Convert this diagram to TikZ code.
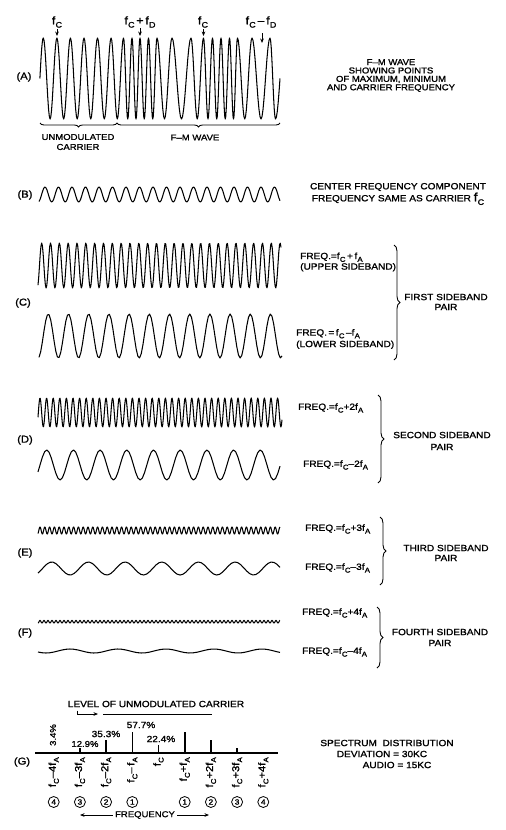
\documentclass[tikz,border=0pt]{standalone}
\usepackage{fontspec}
\usetikzlibrary{decorations.pathreplacing,arrows.meta}
\newfontfamily\lettr[FakeStretch=1.12,FakeBold=1.3]{Liberation Sans}
\newcommand\fsub[1]{f\kern0.2pt\raisebox{-0.3em}{\fontsize{7}{7}\selectfont #1}}
\newcommand\fbig[1]{f\kern0.2pt\raisebox{-0.3em}{\fontsize{8}{8}\selectfont #1}}
\newcommand\wavedraw[6]{%
  \pgfmathtruncatemacro\nsmp{12*(#2-#1)/#5+2}%
  \draw[wv] plot[domain=#1:#2, samples=\nsmp] (\x,{#3-#4*cos(360*mod((\x-#6)/#5,1))});}
\begin{document}
\begin{tikzpicture}[x=1pt,y=-1pt,
  wv/.style={line width=1.05pt, line join=round},
  lt/.style={font=\lettr\fontsize{9.5}{10}\selectfont, inner sep=0pt, text=black},
  tipa/.style={line width=0.8pt, -{Stealth[length=4.5pt,width=3.6pt]}},
  rbrace/.style={decorate, decoration={brace, amplitude=6pt}, line width=0.9pt},
  bbrace/.style={decorate, decoration={brace, amplitude=4pt, mirror}, line width=0.9pt},
  spbar/.style={line width=1.6pt},
  cnum/.style={circle, draw, line width=0.8pt, inner sep=0pt, minimum size=11pt, font=\lettr\fontsize{7.5}{8}\selectfont}
]
\fill[white] (0,0) rectangle (506,830);
\useasboundingbox (0,0) rectangle (506,830);

% ---------- (A) ----------
\node[lt, font=\lettr\fontsize{10}{10}\selectfont] (labA) at (24,77) {(A)};
\draw[wv] plot[domain=0.5:1,samples=8] ({36.5+6.8*\x},{78.5+40.5*cos(180*\x)})
  \foreach \xa/\xb/\dd in {43.3/50.1/-1, 50.1/56.9/1, 56.9/63.65/-1, 63.65/70.4/1,
     70.4/77.2/-1, 77.2/84/1, 84/90.75/-1, 90.75/97.5/1, 97.5/104.3/-1, 104.3/111.1/1,
     111.1/117.3/-1, 117.3/123.5/1, 123.5/127.75/-1, 127.75/132/1, 132/136/-1, 136/140/1,
     140/144.25/-1, 144.25/148.5/1, 148.5/152.75/-1, 152.75/157/1, 157/164.5/-1, 164.5/172/1,
     172/181.5/-1, 181.5/191/1, 191/197.25/-1, 197.25/203.5/1, 203.5/208/-1, 208/212.5/1,
     212.5/216.75/-1, 216.75/221/1, 221/225.25/-1, 225.25/229.5/1, 229.5/233.5/-1, 233.5/237.5/1,
     237.5/244.75/-1, 244.75/252/1, 252/261/-1, 261/270/1, 270/275.5/-1}
  { -- plot[domain=0:1,samples=10] ({\xa+(\xb-\xa)*\x},{78.5+\dd*40.5*cos(180*\x)}) }
  -- plot[domain=0:0.5,samples=6] ({275.5+9*\x},{78.5+40.5*cos(180*\x)});

\node[lt, font=\lettr\fontsize{11}{11}\selectfont] (fa1) at (57,22) {\fbig{C}};
\node[lt, font=\lettr\fontsize{11}{11}\selectfont] (fa2) at (140,22) {\fbig{C}\,+\,\fbig{D}};
\node[lt, font=\lettr\fontsize{11}{11}\selectfont] (fa3) at (203,22) {\fbig{C}};
\node[lt, font=\lettr\fontsize{11}{11}\selectfont] (fa4) at (261,22) {\fbig{C}\,–\,\fbig{D}};
\coordinate (pa1) at (57,36);
\coordinate (pa2) at (140,36);
\coordinate (pa3) at (203.5,36);
\coordinate (pa4) at (262,43);
\draw[tipa] (57,29) -- (pa1);
\draw[tipa] (140,28) -- (pa2);
\draw[tipa] (203.5,29) -- (pa3);
\draw[tipa] (262,33) -- (pa4);

\node[lt, align=center, font=\lettr\fontsize{8.5}{8.4}\selectfont] (descA) at (391,75.5) {F–M WAVE\\SHOWING POINTS\\OF MAXIMUM, MINIMUM\\AND CARRIER FREQUENCY};

\coordinate (brA0) at (40,123);
\coordinate (brA1) at (117,123);
\coordinate (brA2) at (280,123);
\draw[bbrace] (brA0) -- (brA1);
\draw[bbrace] (brA1) -- (brA2);
\node[lt, align=center, font=\lettr\fontsize{8.5}{10}\selectfont] (unmod) at (78,142) {UNMODULATED\\CARRIER};
\node[lt, font=\lettr\fontsize{8.5}{10}\selectfont] (fmw) at (195,137.5) {F–M WAVE};

% ---------- (B) ----------
\node[lt, font=\lettr\fontsize{10}{10}\selectfont] (labB) at (25,195) {(B)};
\wavedraw{39}{280}{194.5}{7.5}{13.5}{45}
\node[lt, align=center, font=\lettr\fontsize{9}{12}\selectfont] (descB) at (398,194)
  {CENTER FREQUENCY COMPONENT\\FREQUENCY SAME AS CARRIER {\fontsize{12}{12}\selectfont\fbig{C}}};

% ---------- (C) ----------
\node[lt, font=\lettr\fontsize{10}{10}\selectfont] (labC) at (23,303) {(C)};
\wavedraw{38}{281}{265.5}{22.5}{8.83}{41.7}
\wavedraw{39}{282}{336}{22}{20.2}{48.3}
\node[lt, align=left, anchor=west, font=\lettr\fontsize{9}{10.5}\selectfont] (cu) at (300,262) {FREQ.=\fsub{C}\,+\,\fsub{A}\\(UPPER SIDEBAND)};
\node[lt, align=left, anchor=west, font=\lettr\fontsize{9}{11.5}\selectfont] (cl) at (296,339) {FREQ.\,=\,\fsub{C}\,–\fsub{A}\\(LOWER SIDEBAND)};
\coordinate (brC0) at (394,245);
\coordinate (brC1) at (394,360);
\draw[rbrace] (brC0) -- (brC1);
\node[lt, align=center, font=\lettr\fontsize{9}{10}\selectfont] (descC) at (446,302) {FIRST SIDEBAND\\PAIR};

% ---------- (D) ----------
\node[lt, font=\lettr\fontsize{10}{10}\selectfont] (labD) at (25,440) {(D)};
\wavedraw{38}{282}{412.5}{14.5}{6.6}{40}
\wavedraw{38}{280}{465}{15}{26.7}{46.7}
\node[lt, anchor=west, font=\lettr\fontsize{9}{10}\selectfont] (du) at (298,408) {FREQ.=\fsub{C}+2\fsub{A}};
\node[lt, anchor=west, font=\lettr\fontsize{9}{10}\selectfont] (dl) at (303,465) {FREQ.=\fsub{C}–2\fsub{A}};
\coordinate (brD0) at (378,395);
\coordinate (brD1) at (378,483);
\draw[rbrace] (brD0) -- (brD1);
\node[lt, align=center, font=\lettr\fontsize{9}{12}\selectfont] (descD) at (442,441) {SECOND SIDEBAND\\PAIR};

% ---------- (E) ----------
\node[lt, font=\lettr\fontsize{10}{10}\selectfont] (labE) at (25,553) {(E)};
\wavedraw{38}{280}{530.5}{3.5}{4.8}{40}
\wavedraw{38}{280}{568.5}{6.5}{36.7}{51.7}
\node[lt, anchor=west, font=\lettr\fontsize{9}{10}\selectfont] (eu) at (305,529) {FREQ.=\fsub{C}+3\fsub{A}};
\node[lt, anchor=west, font=\lettr\fontsize{9}{10}\selectfont] (el) at (305,568) {FREQ.=\fsub{C}–3\fsub{A}};
\coordinate (brE0) at (380,517);
\coordinate (brE1) at (380,585);
\draw[rbrace] (brE0) -- (brE1);
\node[lt, align=center, font=\lettr\fontsize{9}{10}\selectfont] (descE) at (446,553) {THIRD SIDEBAND\\PAIR};

% ---------- (F) ----------
\node[lt, font=\lettr\fontsize{10}{10}\selectfont] (labF) at (25,633) {(F)};
\wavedraw{38}{280}{621.7}{1.3}{4}{40}
\wavedraw{38}{280}{651}{2}{48}{70}
\node[lt, anchor=west, font=\lettr\fontsize{9}{10}\selectfont] (fu) at (302,613) {FREQ.=\fsub{C}+4\fsub{A}};
\node[lt, anchor=west, font=\lettr\fontsize{9}{10}\selectfont] (fl) at (302,652) {FREQ.=\fsub{C}–4\fsub{A}};
\coordinate (brF0) at (377,607);
\coordinate (brF1) at (377,668);
\draw[rbrace] (brF0) -- (brF1);
\node[lt, align=center, font=\lettr\fontsize{9}{11}\selectfont] (descF) at (440,637.5) {FOURTH SIDEBAND\\PAIR};

% ---------- (G) ----------
\node[lt, font=\lettr\fontsize{10}{10}\selectfont] (labG) at (22,762) {(G)};
\node[lt, font=\lettr\fontsize{9}{10}\selectfont] (level) at (156,704) {LEVEL OF UNMODULATED CARRIER};
\coordinate (lv0) at (77,710.5);
\coordinate (lv1) at (98,714);
\coordinate (lv2) at (103,714);
\coordinate (lv3) at (212,714);
\draw[tipa] (lv0) |- (lv1);
\draw[line width=0.9pt] (lv2) -- (lv3);
\coordinate (bl0) at (35,753);
\coordinate (bl1) at (278,753);
\draw[line width=1.2pt] (bl0) -- (bl1);
\foreach \k/\h in {-4/1.3, -3/4.8, -2/13.1, -1/21.3, 0/8.3, 1/21.3, 2/13.1, 3/4.8, 4/1.3}
  \draw[spbar] ({158.5+26.2*\k},753) -- ++(0,-\h);
\node[lt, rotate=90, font=\lettr\fontsize{8.5}{9}\selectfont] (p34) at (53,735) {3.4\%};
\node[lt, font=\lettr\fontsize{8.5}{9}\selectfont] (p129) at (85,744) {12.9\%};
\node[lt, font=\lettr\fontsize{9}{9}\selectfont] (p353) at (106,734) {35.3\%};
\node[lt, font=\lettr\fontsize{9}{9}\selectfont] (p577) at (141,725) {57.7\%};
\node[lt, font=\lettr\fontsize{9}{9}\selectfont] (p224) at (161,739) {22.4\%};
\foreach \k/\t in {-4/{\fsub{C}–4\fsub{A}}, -3/{\fsub{C}–3\fsub{A}}, -2/{\fsub{C}–2\fsub{A}}, -1/{\fsub{C}–\,\fsub{A}},
   0/{\fsub{C}}, 1/{\fsub{C}+\fsub{A}}, 2/{\fsub{C}+2\fsub{A}}, 3/{\fsub{C}+3\fsub{A}}, 4/{\fsub{C}+4\fsub{A}}}
  \node[lt, rotate=90, anchor=east, font=\lettr\fontsize{10}{10}\selectfont] (fl\k) at ({158.5+26.2*\k},757) {\t};
\foreach \k/\n in {-4/4, -3/3, -2/2, -1/1, 1/1, 2/2, 3/3, 4/4}
  \node[cnum] (cn\k) at ({158.5+26.2*\k},802) {\n};
\node[lt, font=\lettr\fontsize{8.5}{9}\selectfont] (freq) at (145,815) {FREQUENCY};
\coordinate (fq0) at (80,815);
\coordinate (fq1) at (209,815);
\draw[tipa] ([xshift=-2pt]freq.west) -- (fq0);
\draw[tipa] ([xshift=2pt]freq.east) -- (fq1);
\node[lt, font=\lettr\fontsize{9}{10}\selectfont] (sp1) at (387,743) {SPECTRUM \ DISTRIBUTION};
\node[lt, font=\lettr\fontsize{9}{10}\selectfont] (sp2) at (382,754) {DEVIATION = 30KC};
\node[lt, font=\lettr\fontsize{9}{10}\selectfont] (sp3) at (397,765) {AUDIO = 15KC};
\end{tikzpicture}
\end{document}
